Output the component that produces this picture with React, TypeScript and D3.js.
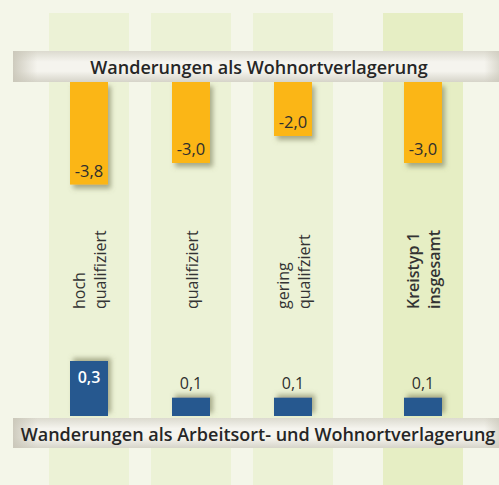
import React from "react";
import * as d3 from "d3";

const categories = ["hoch|qualifiziert", "qualifiziert", "gering|qualifziert", "Kreistyp 1|insgesamt"];
const isTotal = [false, false, false, true];
const wohnort = [-3.8, -3.0, -2.0, -3.0];
const arbeitWohn = [0.3, 0.1, 0.1, 0.1];
const topTitle = "Wanderungen als Wohnortverlagerung";
const bottomTitle = "Wanderungen als Arbeitsort- und Wohnortverlagerung";

const W = 499, H = 485;
const FONT = "'Open Sans', 'DejaVu Sans', sans-serif";
const fmt = (v: number) => d3.format(".1f")(v).replace(".", ",").replace("−", "-");

export default function App() {
  const xp = d3.scalePoint<string>().domain(categories).range([89, 395]);
  const cx = (c: string, i: number) => (xp(c) as number) + (isTotal[i] ? 28 : 0);
  const bandW = 80, barW = 38;
  const yO = d3.scaleLinear().domain([0, -4]).range([82, 190]);
  const yB = d3.scaleLinear().domain([0, 0.3]).range([416, 361]);

  return (
    <div style={{ position: "absolute", left: 0, top: 0 }}>
      <svg width={W} height={H} style={{ display: "block" }}>
        <defs>
          <filter id="shO" x="-30%" y="-30%" width="160%" height="160%">
            <feDropShadow dx="3" dy="4" stdDeviation="2.5" floodColor="#6e6f4c" floodOpacity="0.55" />
          </filter>
          <filter id="shB" x="-30%" y="-60%" width="160%" height="220%">
            <feDropShadow dx="3" dy="-3" stdDeviation="2.5" floodColor="#6e6f4c" floodOpacity="0.55" />
          </filter>
          <linearGradient id="stripV" x1="0" y1="0" x2="0" y2="1">
            <stop offset="0" stopColor="#dcdacf" />
            <stop offset="0.35" stopColor="#f5f4ee" />
            <stop offset="0.65" stopColor="#f5f4ee" />
            <stop offset="1" stopColor="#d6d4c9" />
          </linearGradient>
          <linearGradient id="stripH" x1="0" y1="0" x2="1" y2="0">
            <stop offset="0" stopColor="#c9c6b8" stopOpacity="0.9" />
            <stop offset="0.05" stopColor="#c9c6b8" stopOpacity="0" />
            <stop offset="0.97" stopColor="#c9c6b8" stopOpacity="0" />
            <stop offset="1" stopColor="#c9c6b8" stopOpacity="0.6" />
          </linearGradient>
        </defs>
        <rect x={0} y={0} width={W} height={H} fill="#f4f6e9" />
        {categories.map((c, i) => (
          <rect key={"band" + i} x={cx(c, i) - bandW / 2} y={13} width={bandW} height={H - 13}
            fill={isTotal[i] ? "#e6eec4" : "#ecf2d6"} />
        ))}
        {categories.map((c, i) => (
          <rect key={"o" + i} x={cx(c, i) - barW / 2} y={yO(0)} width={barW} height={yO(wohnort[i]) - yO(0)}
            fill="#fbb616" filter="url(#shO)" />
        ))}
        {categories.map((c, i) => (
          <text key={"ol" + i} x={cx(c, i)} y={yO(wohnort[i]) - 8} textAnchor="middle"
            fontFamily={FONT} fontSize={16.5} fill="#2e2e2e">{fmt(wohnort[i])}</text>
        ))}
        {categories.map((c, i) => (
          <rect key={"b" + i} x={cx(c, i) - barW / 2} y={yB(arbeitWohn[i])} width={barW} height={yB(0) - yB(arbeitWohn[i])}
            fill="#27588f" filter="url(#shB)" />
        ))}
        {categories.map((c, i) => {
          const inside = yB(0) - yB(arbeitWohn[i]) > 30;
          return (
            <text key={"bl" + i} x={cx(c, i)} y={inside ? yB(arbeitWohn[i]) + 22 : yB(arbeitWohn[i]) - 9}
              textAnchor="middle" fontFamily={FONT} fontSize={16} fontWeight={inside ? 600 : 400}
              fill={inside ? "#ffffff" : "#2e2e2e"}>{fmt(arbeitWohn[i])}</text>
          );
        })}
        {categories.map((c, i) => {
          const lines = c.split("|");
          const offs = lines.length === 2 ? [-4, 17] : [7];
          return (
            <g key={"cl" + i}>
              {lines.map((l, j) => (
                <text key={j} transform={`translate(${cx(c, i) + offs[j]},309) rotate(-90)`}
                  fontFamily={FONT} fontSize={16} fontWeight={isTotal[i] ? 600 : 400} fill="#333333">{l}</text>
              ))}
            </g>
          );
        })}
        {[{ y: 51, h: 31, t: topTitle, tx: 259, ty: 74 }, { y: 418, h: 30, t: bottomTitle, tx: 258, ty: 441 }].map((s, i) => (
          <g key={"s" + i}>
            <rect x={13} y={s.y} width={W - 13} height={s.h} fill="url(#stripV)" />
            <rect x={13} y={s.y} width={W - 13} height={s.h} fill="url(#stripH)" />
            <text x={s.tx} y={s.ty} textAnchor="middle" fontFamily={FONT} fontSize={18} fontWeight={600} fill="#262626">{s.t}</text>
          </g>
        ))}
      </svg>
    </div>
  );
}
